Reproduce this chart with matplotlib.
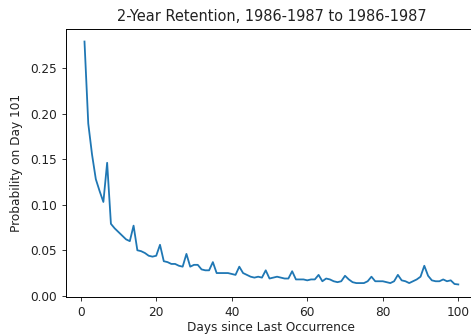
import numpy as np
import matplotlib.pyplot as plt

# Probability of a repeat on day 101, by days since last occurrence
days = np.arange(1, 101)
prob = [
    0.279, 0.189, 0.155, 0.128, 0.115, 0.103, 0.146, 0.079, 0.074, 0.070,
    0.066, 0.062, 0.060, 0.077, 0.050, 0.049, 0.047, 0.044, 0.043, 0.044,
    0.056, 0.038, 0.037, 0.035, 0.035, 0.033, 0.032, 0.046, 0.032, 0.034,
    0.034, 0.029, 0.028, 0.028, 0.037, 0.025, 0.025, 0.025, 0.025, 0.024,
    0.023, 0.032, 0.025, 0.023, 0.021, 0.020, 0.021, 0.020, 0.028, 0.019,
    0.020, 0.021, 0.020, 0.019, 0.019, 0.027, 0.018, 0.018, 0.018, 0.017,
    0.018, 0.018, 0.023, 0.016, 0.019, 0.018, 0.016, 0.015, 0.016, 0.022,
    0.018, 0.015, 0.014, 0.014, 0.014, 0.016, 0.021, 0.016, 0.016, 0.016,
    0.015, 0.014, 0.016, 0.023, 0.017, 0.016, 0.014, 0.016, 0.018, 0.021,
    0.033, 0.022, 0.017, 0.016, 0.016, 0.018, 0.016, 0.017, 0.013, 0.0125,
]

plt.rcParams['font.size'] = 8.7
plt.rcParams['axes.linewidth'] = 0.7
plt.rcParams['xtick.major.size'] = 3.0
plt.rcParams['ytick.major.size'] = 3.0
plt.rcParams['xtick.major.width'] = 0.7
plt.rcParams['ytick.major.width'] = 0.7

fig = plt.figure(figsize=(4.71, 3.34), dpi=100)
ax = fig.add_axes([0.1397, 0.112, 0.873, 0.800])
ax.plot(days, prob, color='#1f77b4', linewidth=1.3)
ax.set_xticks([0, 20, 40, 60, 80, 100])
ax.set_yticks([0.0, 0.05, 0.10, 0.15, 0.20, 0.25])
ax.set_yticklabels(['0.00', '0.05', '0.10', '0.15', '0.20', '0.25'])
ax.tick_params(colors='#333333', labelcolor='#222222')
ax.set_xlabel('Days since Last Occurrence', color='#222222', labelpad=1.5)
ax.set_ylabel('Probability on Day 101', color='#222222', labelpad=5)
ax.set_title('2-Year Retention, 1986-1987 to 1986-1987', color='#222222')

fig.savefig('out.png', dpi=100)
